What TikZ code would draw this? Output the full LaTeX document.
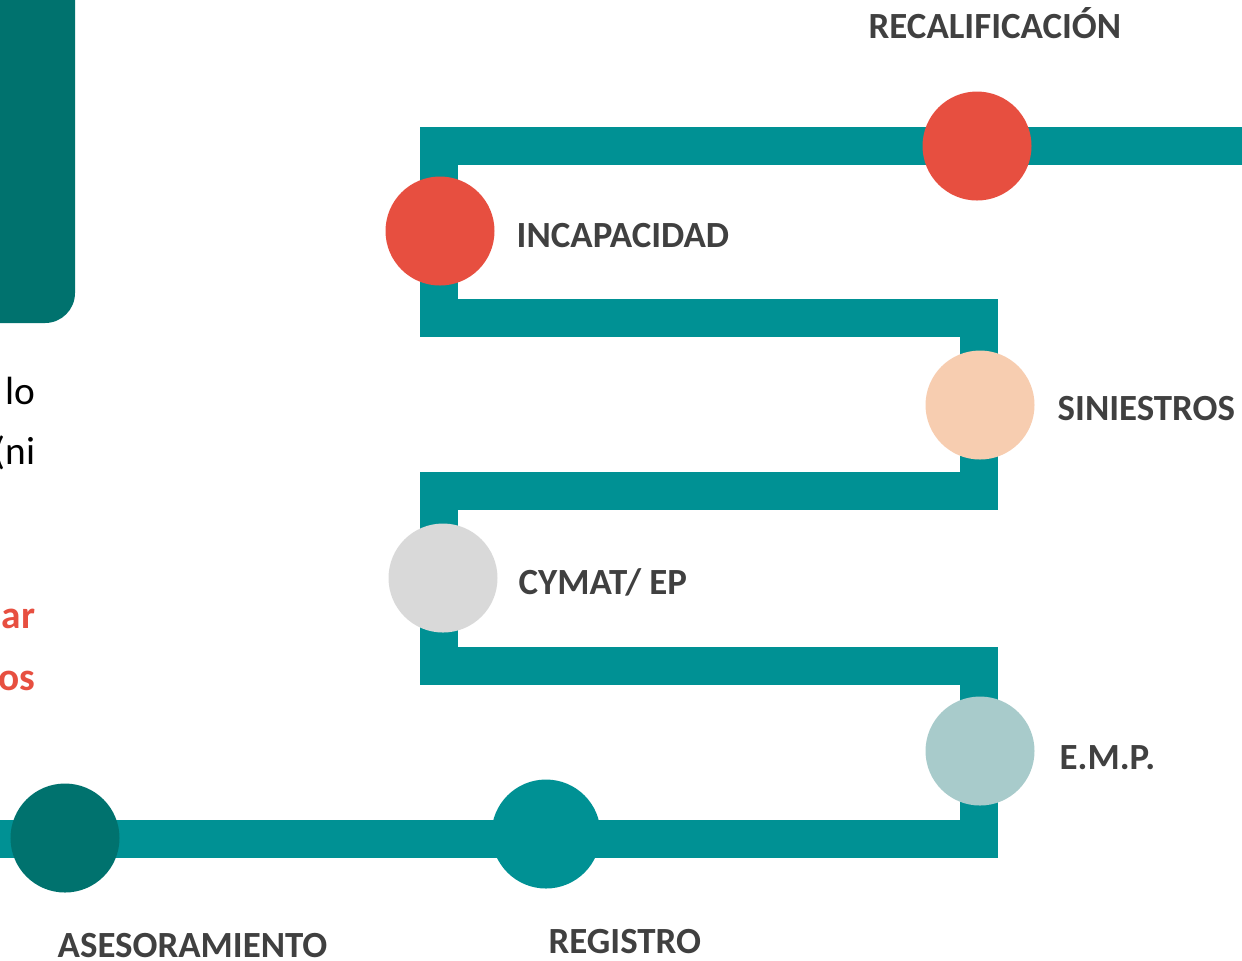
\documentclass[tikz,border=0pt]{standalone}
\usepackage{fontspec}
\setmainfont{Carlito}

\definecolor{trackteal}{RGB}{0,145,148}
\definecolor{darkteal}{RGB}{0,114,110}
\definecolor{stopred}{RGB}{231,79,64}
\definecolor{stoppeach}{RGB}{247,205,176}
\definecolor{stopgrey}{RGB}{217,217,217}
\definecolor{stoplight}{RGB}{168,203,203}
\definecolor{labelgrey}{RGB}{64,64,64}

\tikzset{
  track/.style={draw=trackteal, line width=0.38cm, line join=miter},
  stop/.style={circle, minimum size=1.09cm, inner sep=0pt},
  stoplabel/.style={anchor=west, inner sep=0pt, text=labelgrey,
    font=\fontsize{10.5}{12}\selectfont\bfseries},
  sidetext/.style={anchor=east, inner sep=0pt,
    font=\fontsize{11.2}{13}\selectfont}
}

\begin{document}
\begin{tikzpicture}[x=1cm,y=-1cm]
  \useasboundingbox (0,0) rectangle (12.42,9.60);
  \clip (0,0) rectangle (12.42,9.60);

  % 1. Panel and text cut off at the left
  \fill[darkteal, rounded corners=0.3cm] (-0.5,-0.5) rectangle (0.75,3.23);
  \node[sidetext] (lo) at (0.36,3.91) {lo};
  \node[sidetext] (ni) at (0.36,4.53) {(ni};
  \node[sidetext, text=stopred, font=\fontsize{11.2}{13}\selectfont\bfseries] (ar) at (0.36,6.19) {ar};
  \node[sidetext, text=stopred, font=\fontsize{11.2}{13}\selectfont\bfseries] (os) at (0.36,6.81) {os};

  % 2. Corners of the track
  \coordinate (in)   at (0,8.39);
  \coordinate (c1)   at (9.79,8.39);
  \coordinate (c2)   at (9.79,6.66);
  \coordinate (c3)   at (4.39,6.66);
  \coordinate (c4)   at (4.39,4.91);
  \coordinate (c5)   at (9.79,4.91);
  \coordinate (c6)   at (9.79,3.18);
  \coordinate (c7)   at (4.39,3.18);
  \coordinate (c8)   at (4.39,1.455);
  \coordinate (out)  at (12.42,1.455);
  \draw[track] (in) -- (c1) -- (c2) -- (c3) -- (c4) -- (c5) -- (c6)
    -- (c7) -- (c8) -- (out);

  % 3. Stops on the track
  \node[stop, fill=darkteal]   (ases)  at (0.65,8.38) {};
  \node[stop, fill=trackteal]  (reg)   at (5.46,8.34) {};
  \node[stop, fill=stoplight]  (emp)   at (9.80,7.51) {};
  \node[stop, fill=stopgrey]   (cymat) at (4.43,5.78) {};
  \node[stop, fill=stoppeach]  (sin)   at (9.80,4.05) {};
  \node[stop, fill=stopred]    (inc)   at (4.40,2.31) {};
  \node[stop, fill=stopred]    (recal) at (9.77,1.46) {};

  % 4. Labels
  \node[stoplabel] (asesL)  at (0.57,9.45) {ASESORAMIENTO};
  \node[stoplabel] (regL)   at (5.48,9.41) {REGISTRO};
  \node[stoplabel] (empL)   at (10.59,7.58) {E.M.P.};
  \node[stoplabel] (cymatL) at (5.18,5.82) {CYMAT/ EP};
  \node[stoplabel] (sinL)   at (10.57,4.09) {SINIESTROS};
  \node[stoplabel] (incL)   at (5.16,2.36) {INCAPACIDAD};
  \node[stoplabel] (recalL) at (8.68,0.23) {RECALIFICACIÓN};
\end{tikzpicture}
\end{document}
